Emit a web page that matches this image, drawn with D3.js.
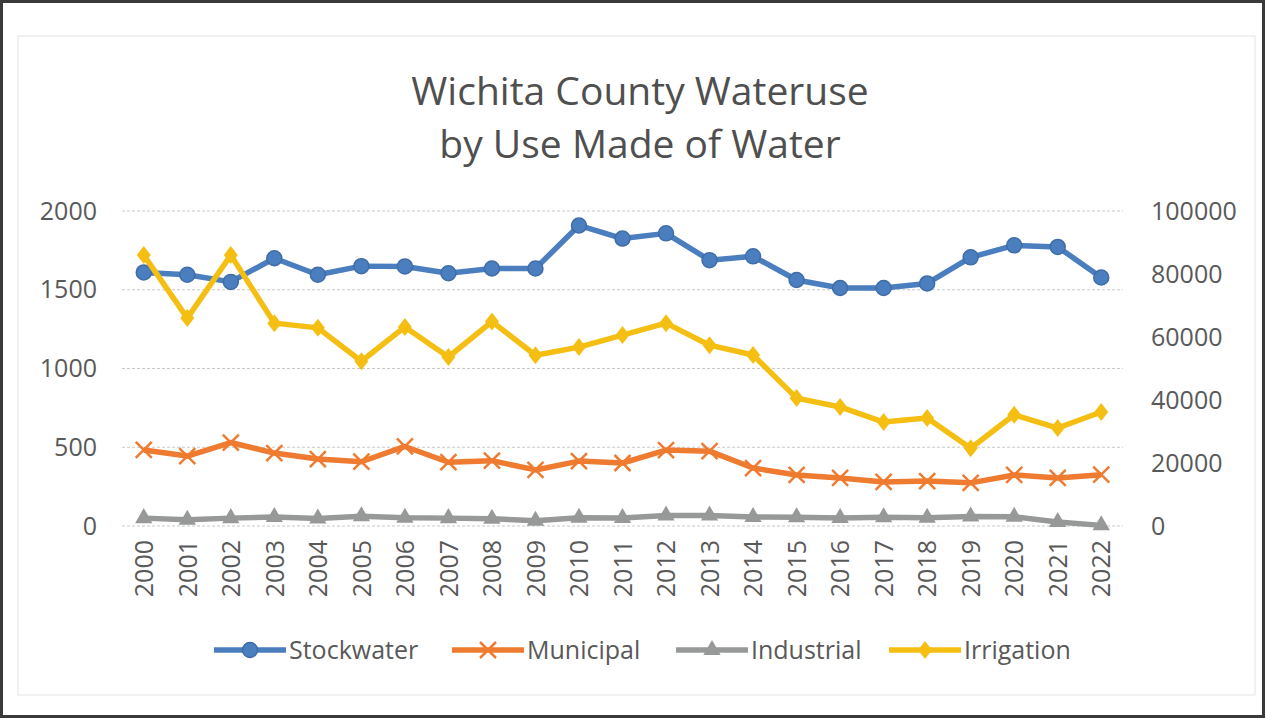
<!DOCTYPE html>
<meta charset="utf-8">
<style>
body { margin: 0; background: #fff; }
text { font-family: "Open Sans", "Noto Sans", sans-serif; fill: #595959; }
.grid line { stroke: #c9c9c9; stroke-width: 1.2px; stroke-dasharray: 3 2; }
.tick-label { font-size: 25px; }
.title { font-size: 39px; text-anchor: middle; fill: #4f4f4f; }
.legend text { font-size: 25px; }
</style>
<svg width="1265" height="719"></svg>
<script src="https://d3js.org/d3.v7.min.js"></script>
<script>
// values
var years = ["2000","2001","2002","2003","2004","2005","2006","2007","2008","2009","2010",
             "2011","2012","2013","2014","2015","2016","2017","2018","2019","2020","2021","2022"];

var stockwater = [1610, 1595, 1550, 1700, 1595, 1650, 1648, 1605, 1635, 1635, 1908,
                  1825, 1858, 1688, 1712, 1562, 1511, 1511, 1540, 1706, 1782, 1772, 1578];
var municipal  = [483, 444, 530, 463, 425, 408, 505, 405, 415, 356, 412,
                  400, 482, 475, 368, 324, 305, 280, 285, 274, 324, 305, 326];
var industrial = [50, 40, 50, 57, 47, 62, 52, 50, 46, 34, 52,
                  51, 66, 66, 57, 56, 51, 56, 52, 60, 58, 26, 4];
var irrigation = [86000, 66000, 86000, 64400, 62900, 52300, 63200, 53650, 64900, 54200, 56800,
                  60600, 64400, 57400, 54300, 40600, 37800, 33000, 34300, 24700, 35300, 31100, 36200];

var leftTicks = [0, 500, 1000, 1500, 2000];
var rightTicks = [0, 20000, 40000, 60000, 80000, 100000];

var svg = d3.select("svg");

// scanned page frame + chart area border
svg.append("rect").attr("x", 1.5).attr("y", 1.5).attr("width", 1262).attr("height", 715)
    .attr("fill", "none").attr("stroke", "#3a3a3a").attr("stroke-width", 3);
svg.append("rect").attr("x", 18).attr("y", 36).attr("width", 1237).attr("height", 659)
    .attr("fill", "none").attr("stroke", "#e3e3e3").attr("stroke-width", 1);

var x = d3.scalePoint().domain(years).range([122, 1123]).padding(0.5);
var yL = d3.scaleLinear().domain([0, 2000]).range([526, 211]);
var yR = d3.scaleLinear().domain([0, 100000]).range([526, 211]);

// title
svg.append("text").attr("class", "title").attr("x", 640).attr("y", 105).text("Wichita County Wateruse");
svg.append("text").attr("class", "title").attr("x", 640).attr("y", 158).text("by Use Made of Water");

// gridlines
svg.append("g").attr("class", "grid")
  .selectAll("line").data(leftTicks).enter().append("line")
    .attr("x1", 122).attr("x2", 1123)
    .attr("y1", function(d) { return yL(d); })
    .attr("y2", function(d) { return yL(d); });

// axes (labels only, no domain lines)
var axL = svg.append("g").attr("transform", "translate(97,0)")
    .call(d3.axisLeft(yL).tickValues(leftTicks).tickSize(0).tickPadding(0).tickFormat(d3.format("d")));
var axR = svg.append("g").attr("transform", "translate(1151,0)")
    .call(d3.axisRight(yR).tickValues(rightTicks).tickSize(0).tickPadding(0).tickFormat(d3.format("d")));
var axB = svg.append("g").attr("transform", "translate(0,540)")
    .call(d3.axisBottom(x).tickSize(0).tickPadding(0));
axB.selectAll("text")
    .attr("transform", "rotate(-90)")
    .attr("text-anchor", "end")
    .attr("x", 0).attr("y", 0).attr("dy", "0.35em");
[axL, axR, axB].forEach(function(a) {
  a.select(".domain").remove();
  a.selectAll("text").attr("class", "tick-label").attr("fill", "#595959")
    .style("font-family", "\"Open Sans\", sans-serif");
});

var series = [
  { name: "Stockwater", values: stockwater, y: yL, color: "#4a7ebf", marker: "circle" },
  { name: "Municipal",  values: municipal,  y: yL, color: "#ee7b30", marker: "x" },
  { name: "Industrial", values: industrial, y: yL, color: "#979998", marker: "triangle" },
  { name: "Irrigation", values: irrigation, y: yR, color: "#f4bf12", marker: "diamond" }
];

function drawMarker(g, type, color) {
  if (type === "circle") {
    g.append("circle").attr("r", 7.5).attr("fill", color).attr("stroke", d3.color(color).darker(0.4)).attr("stroke-width", 1.5);
  } else if (type === "x") {
    g.append("path").attr("d", "M-8,-8L8,8M-8,8L8,-8").attr("stroke", color).attr("stroke-width", 2.5);
  } else if (type === "triangle") {
    g.append("path").attr("d", d3.symbol(d3.symbolTriangle, 130)()).attr("fill", color);
  } else {
    g.append("path").attr("d", "M0,-9L7,0L0,9L-7,0Z").attr("fill", color);
  }
}

var line = d3.line();

// series order as in the workbook; irrigation (secondary axis) ends on top
series.forEach(function(s) {
  var pts = s.values.map(function(v, i) { return [x(years[i]), s.y(v)]; });
  svg.append("path")
      .attr("d", line(pts))
      .attr("fill", "none")
      .attr("stroke", s.color)
      .attr("stroke-width", 5.5)
      .attr("stroke-linejoin", "round");
  pts.forEach(function(p) {
    var m = svg.append("g").attr("transform", "translate(" + p[0] + "," + p[1] + ")");
    drawMarker(m, s.marker, s.color);
  });
});

// legend
var legendX = [214, 452, 676, 889];
var legend = svg.append("g").attr("class", "legend");
series.forEach(function(s, i) {
  var g = legend.append("g").attr("transform", "translate(" + legendX[i] + ",650)");
  g.append("line").attr("x1", 0).attr("x2", 72).attr("y1", 0).attr("y2", 0)
      .attr("stroke", s.color).attr("stroke-width", 5.5);
  var m = g.append("g").attr("transform", "translate(36,0)");
  drawMarker(m, s.marker, s.color);
  g.append("text").attr("x", 75).attr("y", 0).attr("dy", "0.35em").text(s.name);
});
</script>
